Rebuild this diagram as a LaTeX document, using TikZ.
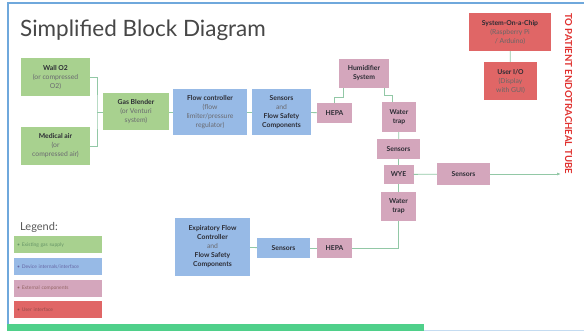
\documentclass[tikz,border=0pt]{standalone}
\usepackage{fontspec}
\setmainfont{Lato}
\usetikzlibrary{arrows.meta}
\definecolor{gbox}{HTML}{A8D18F}
\definecolor{bbox}{HTML}{97BAE6}
\definecolor{pbox}{HTML}{D4A6BC}
\definecolor{rbox}{HTML}{E06666}
\definecolor{conn}{HTML}{92C8A6}
\definecolor{txt}{HTML}{2B2B33}
\definecolor{subtxt}{HTML}{6A6A70}
\definecolor{frameblue}{HTML}{6FA8DC}
\definecolor{bargreen}{HTML}{4FD08A}
\definecolor{tored}{HTML}{E0302E}
\begin{document}
\begin{tikzpicture}[x=1pt,y=-1pt,
  blk/.style={inner sep=0pt,align=center,text=txt,font=\fontsize{6.8}{9}\selectfont},
  green/.style={blk,fill=gbox},
  blue/.style={blk,fill=bbox},
  pink/.style={blk,fill=pbox},
  red/.style={blk,fill=rbox},
  sz/.style 2 args={minimum width=#1pt,minimum height=#2pt},
  wire/.style={draw=conn,line width=0.8pt},
  leg/.style={inner sep=0pt,minimum width=88pt,minimum height=17pt,anchor=north west,
    font=\fontsize{5}{6}\selectfont,text width=82pt,align=left}
]
\useasboundingbox (0,0) rectangle (584,331);
\fill[white] (0,0) rectangle (584,331);
% frame
\fill[frameblue] (7,2) rectangle (584,4);
\fill[frameblue] (7,2) rectangle (9,325);
\fill[bargreen] (7,324) rectangle (424,331);
\fill[frameblue!40] (424,329.5) rectangle (584,331);

\node[anchor=base west,inner sep=0pt,text=black!72,font=\fontsize{22.5}{26}\selectfont] (title) at (20,37) {Simplified Block Diagram};

% gas supply
\node[green,sz={69}{38}] (wall) at (55.5,77) {\textbf{Wall O2}\\\textcolor{subtxt}{(or compressed}\\\textcolor{subtxt}{O2)}};
\node[green,sz={69}{38}] (air) at (55.5,146) {\textbf{Medical air}\\\textcolor{subtxt}{(or}\\\textcolor{subtxt}{compressed air)}};
\node[green,sz={66}{37}] (blend) at (136,112) {\textbf{Gas Blender}\\\textcolor{subtxt}{(or Venturi}\\\textcolor{subtxt}{system)}};
\node[blue,sz={74}{46}] (flow) at (210,112) {\textbf{Flow controller}\\\textcolor{subtxt}{(flow}\\\textcolor{subtxt}{limiter/pressure}\\\textcolor{subtxt}{regulator)}};
\node[blue,sz={59}{46}] (sens1) at (281.5,112) {\textbf{Sensors}\\\textcolor{subtxt}{and}\\\textbf{Flow Safety}\\\textbf{Components}};
\node[pink,sz={35}{20}] (hepa1) at (334.5,113) {\textbf{HEPA}};
\node[pink,sz={50}{29}] (humid) at (364,73.5) {\textbf{Humidifier}\\\textbf{System}};
\node[pink,sz={34}{30}] (trap1) at (399,117) {\textbf{Water}\\\textbf{trap}};
\node[pink,sz={43}{20}] (sens2) at (398.5,149) {\textbf{Sensors}};
\node[pink,sz={30}{19}] (wye) at (398.5,174.5) {\textbf{WYE}};
\node[pink,sz={53}{22}] (sens3) at (463.5,174) {\textbf{Sensors}};
\node[pink,sz={35}{29}] (trap2) at (398.5,206.5) {\textbf{Water}\\\textbf{trap}};
\node[pink,sz={35}{20}] (hepa2) at (334.5,248) {\textbf{HEPA}};
\node[blue,sz={53}{20}] (sens4) at (283.5,248) {\textbf{Sensors}};
\node[blue,sz={75}{58}] (exp) at (212.5,247) {\textbf{Expiratory Flow}\\\textbf{Controller}\\\textcolor{subtxt}{and}\\\textbf{Flow Safety}\\\textbf{Components}};
\node[red,sz={82}{38}] (soc) at (510,32) {\textbf{System-On-a-Chip}\\\textcolor{black!60}{(Raspberry Pi}\\\textcolor{black!60}{/ Arduino)}};
\node[red,sz={53}{38}] (uio) at (510.5,81) {\textbf{User I/O}\\\textcolor{black!60}{(Display}\\\textcolor{black!60}{with GUI)}};

\node[rotate=-90,anchor=west,inner sep=0pt,text=tored,font=\fontsize{9.6}{10}\selectfont\bfseries] (tube) at (568.5,13) {TO PATIENT ENDOTRACHEAL TUBE};
\coordinate (tip) at (561,174);

% connectors
\coordinate (brk) at (97,112);
\draw[wire] (wall.east) -| (brk) |- (air.east);
\draw[wire] (brk) -- (blend.west);
\draw[wire] (blend) -- (flow);
\draw[wire] (flow) -- (sens1);
\draw[wire] (sens1) -- (hepa1);
\draw[wire] (hepa1.north) -- ++(0,-5) -| ([xshift=5pt]humid.south west);
\draw[wire] ([xshift=-5pt]humid.south east) -- ++(0,7) -| ([xshift=-7pt]trap1.north);
\draw[wire] (trap1) -- (sens2);
\draw[wire] (sens2) -- (wye);
\draw[wire] (wye) -- (trap2);
\draw[wire] (wye) -- (sens3);
\draw[wire,-{Latex[length=4pt,width=3pt]}] (sens3) -- (tip);
\draw[wire] (trap2.south) |- (hepa2.east);
\draw[wire] (hepa2) -- (sens4);
\draw[wire] (sens4) -- (exp);
\draw[wire] (soc) -- (uio);

% legend
\node[anchor=base west,inner sep=0pt,text=black!65,font=\fontsize{11}{12}\selectfont] (legt) at (20,231) {Legend:};
\node[leg,fill=gbox,text=green!30!black!60] (l1) at (14,236) {\textbullet\ Existing gas supply};
\node[leg,fill=bbox,text=blue!40!black!60] (l2) at (14,258) {\textbullet\ Device internals/interface};
\node[leg,fill=pbox,text=red!30!black!60] (l3) at (14,279.5) {\textbullet\ External components};
\node[leg,fill=rbox,text=red!40!black!70] (l4) at (14,301) {\textbullet\ User interface};
\end{tikzpicture}
\end{document}
